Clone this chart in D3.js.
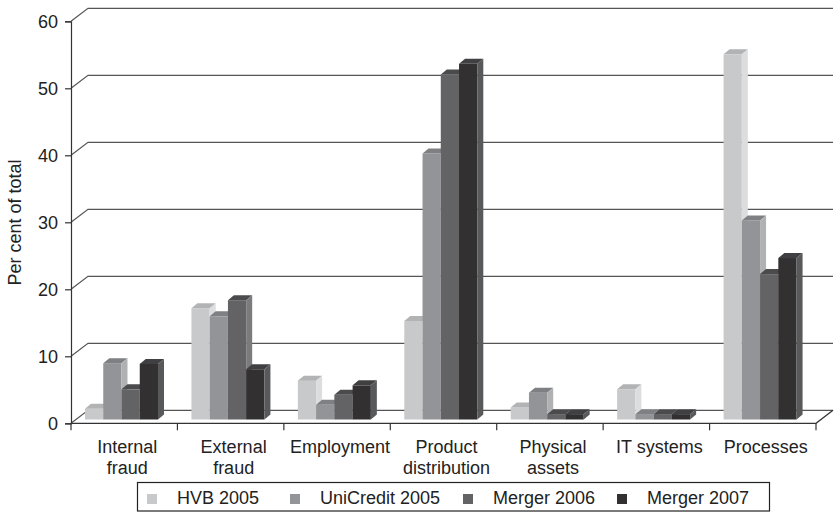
<!DOCTYPE html>
<html>
<head>
<meta charset="utf-8">
<script src="https://cdn.jsdelivr.net/npm/d3@7"></script>
<style>
  html, body { margin: 0; padding: 0; background: #fff; }
  svg { display: block; font-family: "Liberation Sans", Arial, sans-serif; }
</style>
</head>
<body>
<svg id="chart" width="836" height="514"></svg>
<script>
// Operational loss events by event type, per cent of total
const categories = [
  ["Internal", "fraud"],
  ["External", "fraud"],
  ["Employment"],
  ["Product", "distribution"],
  ["Physical", "assets"],
  ["IT systems"],
  ["Processes"]
];
const seriesNames = ["HVB 2005", "UniCredit 2005", "Merger 2006", "Merger 2007"];
const hvb2005       = [1.6, 16.6, 5.8, 14.7, 1.8, 4.5, 54.5];
const unicredit2005 = [8.4, 15.4, 2.2, 39.7, 4.0, 0.8, 29.7];
const merger2006    = [4.5, 17.8, 3.7, 51.5, 0.8, 0.8, 21.7];
const merger2007    = [8.3, 7.5, 5.1, 53.1, 0.8, 0.8, 24.1];
const yTicks = [0, 10, 20, 30, 40, 50, 60];

const seriesValues = [hvb2005, unicredit2005, merger2006, merger2007];
// front / top / side shades for each series
const shades = [
  { front: "#c8c9cb", top: "#b2b3b5", side: "#dcdddf" },
  { front: "#939497", top: "#7f8083", side: "#b0b1b3" },
  { front: "#636365", top: "#4b4b4d", side: "#7b7b7d" },
  { front: "#323031", top: "#404042", side: "#58595b" }
];

const svg = d3.select("#chart");
const catKeys = categories.map(c => c.join(" "));

// plot frame
const left = 71, right = 816, floorY = 423.3, topY = 21.3;
const wallDX = 17, wallDY = -13;     // depth of the back wall
const barDX = 6, barDY = -5;         // depth of each bar
const barBase = 419.5;

const y = d3.scaleLinear().domain([0, 60]).range([floorY, topY]);
const yBar = d3.scaleLinear().domain([0, 60]).range([barBase, barBase - (floorY - topY)]);
const x0 = d3.scaleBand().domain(catKeys).range([left, right]).paddingInner(0).paddingOuter(0);
const x1 = d3.scaleBand().domain(seriesNames).range([14, 87]).padding(0);

const lineCol = "#333";

// back-wall gridlines (with their diagonal run along the left wall)
const grid = svg.append("g");
yTicks.forEach(t => {
  const yy = y(t);
  grid.append("path")
    .attr("d", `M${left},${yy}L${left + wallDX},${yy + wallDY}L${right + wallDX},${yy + wallDY}`)
    .attr("fill", "none").attr("stroke", "#555").attr("stroke-width", 1.2);
});

// floor front edge and right edge
svg.append("path")
  .attr("d", `M${left},${floorY}L${right},${floorY}L${right + wallDX},${floorY + wallDY}`)
  .attr("fill", "none").attr("stroke", lineCol).attr("stroke-width", 1.2);

// y axis
const yAxis = d3.axisLeft(y).tickValues(yTicks).tickSize(6).tickPadding(7);
const yg = svg.append("g").attr("transform", `translate(${left},0)`).call(yAxis);
yg.select(".domain").attr("stroke", lineCol).attr("stroke-width", 1.2);
yg.selectAll(".tick line").attr("stroke", lineCol).attr("stroke-width", 1.2);
yg.selectAll(".tick text").attr("font-size", 18).attr("fill", "#222")
  .attr("font-family", "'Liberation Sans', Arial, sans-serif");

// x axis ticks at category boundaries
const bounds = catKeys.map(k => x0(k)).concat([right]);
svg.append("g").selectAll("line").data(bounds).join("line")
  .attr("x1", d => d).attr("x2", d => d)
  .attr("y1", floorY).attr("y2", floorY + 7)
  .attr("stroke", lineCol).attr("stroke-width", 1.2);

// bars, drawn left to right so neighbours overlap correctly
const bars = svg.append("g");
catKeys.forEach((k, ci) => {
  seriesNames.forEach((s, si) => {
    const v = seriesValues[si][ci];
    const xa = x0(k) + x1(s), w = x1.bandwidth();
    const yt = yBar(v), yb = yBar(0);
    const g = bars.append("g");
    g.append("rect").attr("x", xa).attr("y", yt).attr("width", w).attr("height", yb - yt)
      .attr("fill", shades[si].front);
    g.append("path")
      .attr("d", `M${xa},${yt}L${xa + barDX},${yt + barDY}L${xa + w + barDX},${yt + barDY}L${xa + w},${yt}Z`)
      .attr("fill", shades[si].top);
    g.append("path")
      .attr("d", `M${xa + w},${yt}L${xa + w + barDX},${yt + barDY}L${xa + w + barDX},${yb + barDY}L${xa + w},${yb}Z`)
      .attr("fill", shades[si].side);
  });
});

// category labels
const lab = svg.append("g").attr("font-size", 18).attr("fill", "#222").attr("text-anchor", "middle");
categories.forEach((lines, ci) => {
  const cx = x0(catKeys[ci]) + x0.bandwidth() / 2 + 3;
  lines.forEach((ln, li) => {
    lab.append("text").attr("x", cx).attr("y", 452.5 + li * 21).text(ln);
  });
});

// y axis title
svg.append("text")
  .attr("transform", "translate(21,222.5) rotate(-90)")
  .attr("text-anchor", "middle").attr("font-size", 18).attr("fill", "#222")
  .text("Per cent of total");

// legend
const legend = svg.append("g");
legend.append("rect").attr("x", 137.5).attr("y", 482.5).attr("width", 632).attr("height", 28.5)
  .attr("fill", "#fff").attr("stroke", "#222").attr("stroke-width", 1.2);
const legX = [147, 290, 463, 617];
seriesNames.forEach((s, si) => {
  legend.append("rect").attr("x", legX[si]).attr("y", 494).attr("width", 10).attr("height", 10)
    .attr("fill", shades[si].front);
  legend.append("text").attr("x", legX[si] + 30).attr("y", 503.5)
    .attr("font-size", 18).attr("fill", "#222").text(s);
});
</script>
</body>
</html>
